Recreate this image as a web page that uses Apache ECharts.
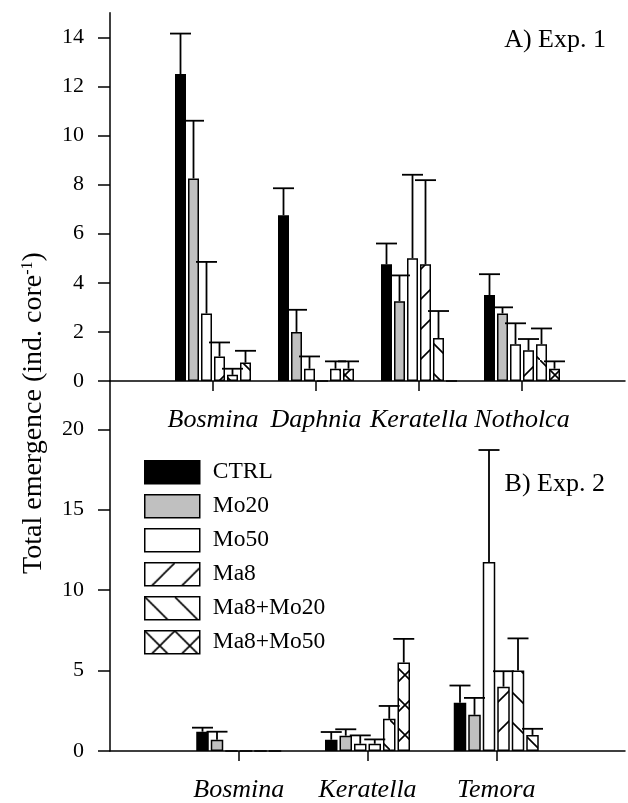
<!DOCTYPE html>
<html>
<head>
<meta charset="utf-8">
<script src="https://cdn.jsdelivr.net/npm/echarts@6/dist/echarts.min.js"></script>
<style>
html, body { margin: 0; padding: 0; background: #fff; }
#main { width: 628px; height: 803px; }
</style>
</head>
<body>
<div id="main"></div>
<script>
var treatments = ['CTRL', 'Mo20', 'Mo50', 'Ma8', 'Ma8+Mo20', 'Ma8+Mo50'];
var taxa1 = ['Bosmina', 'Daphnia', 'Keratella', 'Notholca'];
var taxa2 = ['Bosmina', 'Keratella', 'Temora'];
var ticks1 = [0, 2, 4, 6, 8, 10, 12, 14];
var ticks2 = [0, 5, 10, 15, 20];

// Exp. 1: one row per treatment, columns follow taxa1
var exp1Mean = [
    [12.5, 6.75, 4.75, 3.5],
    [8.25, 2.0, 3.25, 2.75],
    [2.75, 0.5, 5.0, 1.5],
    [1.0, 0, 4.75, 1.25],
    [0.25, 0.5, 1.75, 1.5],
    [0.75, 0.5, 0, 0.5]
];
var exp1Err = [
    [1.65, 1.1, 0.85, 0.85],
    [2.35, 0.9, 1.05, 0.25],
    [2.1, 0.5, 3.4, 0.85],
    [0.57, 0, 3.43, 0.46],
    [0.25, 0.3, 1.1, 0.64],
    [0.48, 0.3, 0, 0.3]
];
// Exp. 2: columns follow taxa2
var exp2Mean = [
    [1.2, 0.7, 3.0],
    [0.7, 0.95, 2.25],
    [0, 0.45, 11.75],
    [0, 0.45, 4.0],
    [0, 2.0, 5.0],
    [0, 5.5, 1.0]
];
var exp2Err = [
    [0.25, 0.48, 1.07],
    [0.5, 0.4, 1.05],
    [0, 0.52, 6.96],
    [0, 0.27, 0.96],
    [0, 0.8, 2.0],
    [0, 1.47, 0.38]
];

var FONT = '"Liberation Serif", "Times New Roman", serif';

function hatch(kind) {
    var c = document.createElement('canvas');
    c.width = 30; c.height = 30;
    var g = c.getContext('2d');
    g.fillStyle = '#fff';
    g.fillRect(0, 0, 30, 30);
    g.strokeStyle = '#000';
    g.lineWidth = 1.6;
    g.beginPath();
    if (kind === 'fwd' || kind === 'x') {
        g.moveTo(-2, 32); g.lineTo(32, -2);
    }
    if (kind === 'back' || kind === 'x') {
        g.moveTo(-2, -2); g.lineTo(32, 32);
    }
    g.stroke();
    return { image: c, repeat: 'repeat' };
}

var fills = ['#000', '#c0c0c0', '#fff', hatch('fwd'), hatch('back'), hatch('x')];

function barSeries(gi, mean, bw, gap) {
    return treatments.map(function (t, k) {
        return {
            name: t,
            type: 'bar',
            xAxisIndex: gi,
            yAxisIndex: gi,
            barWidth: bw,
            barGap: (gap / bw * 100) + '%',
            itemStyle: { color: fills[k], borderColor: '#000', borderWidth: 1.5 },
            data: ['-'].concat(mean[k]).concat(['-'])
        };
    });
}

function errSeries(gi, mean, err, pitch) {
    var items = [];
    mean.forEach(function (row, k) {
        row.forEach(function (v, j) {
            if (err[k][j] > 0) items.push([j + 1, k, v, err[k][j]]);
        });
    });
    return {
        type: 'custom',
        xAxisIndex: gi,
        yAxisIndex: gi,
        silent: true,
        z: 5,
        encode: { x: 0, y: 2 },
        data: items,
        renderItem: function (params, api) {
            var cat = api.value(0), k = api.value(1), m = api.value(2), e = api.value(3);
            var p0 = api.coord([cat, m]);
            var p1 = api.coord([cat, m + e]);
            var x = p0[0] + (k - 2.5) * pitch;
            var st = { stroke: '#000', lineWidth: 1.8 };
            return {
                type: 'group',
                children: [
                    { type: 'line', shape: { x1: x, y1: p0[1], x2: x, y2: p1[1] }, style: st },
                    { type: 'line', shape: { x1: x - 10.5, y1: p1[1], x2: x + 10.5, y2: p1[1] }, style: st }
                ]
            };
        }
    };
}

function xAx(gi, taxa) {
    return {
        type: 'category',
        gridIndex: gi,
        data: [''].concat(taxa).concat(['']),
        boundaryGap: false,
        axisLine: { lineStyle: { color: '#000', width: 1.5 } },
        axisTick: {
            length: 10,
            lineStyle: { color: '#000', width: 1.5 },
            interval: function (i, v) { return v !== ''; }
        },
        axisLabel: {
            interval: 0, margin: 26, color: '#000',
            fontFamily: FONT, fontSize: 26, fontStyle: 'italic'
        },
        splitLine: { show: false }
    };
}

function yAx(gi, max, ticks) {
    return {
        type: 'value',
        gridIndex: gi,
        min: 0,
        max: max,
        axisLine: { show: true, lineStyle: { color: '#000', width: 1.5 } },
        axisTick: { show: true, length: 12, customValues: ticks, lineStyle: { color: '#000', width: 1.5 } },
        axisLabel: { customValues: ticks, margin: 26, color: '#000', fontFamily: FONT, fontSize: 22 },
        splitLine: { show: false }
    };
}

var chart = echarts.init(document.getElementById('main'));
chart.setOption({
    backgroundColor: '#fff',
    animation: false,
    grid: [
        { left: 110, top: 12.7, width: 520, height: 368.3 },
        { left: 110, top: 381, width: 516, height: 372.3 }
    ],
    xAxis: [xAx(0, taxa1), xAx(1, taxa2)],
    yAxis: [yAx(0, 15, ticks1), yAx(1, 23, ticks2)],
    legend: {
        orient: 'vertical',
        left: 144,
        top: 460,
        padding: 0,
        itemWidth: 55,
        itemHeight: 23,
        itemGap: 9.5,
        icon: 'rect',
        selectedMode: false,
        data: treatments,
        itemStyle: { borderColor: '#000', borderWidth: 1.5 },
        textStyle: { color: '#000', fontFamily: FONT, fontSize: 23.5, padding: [0, 0, 0, 8] }
    },
    graphic: [
        {
            type: 'text', x: 34, y: 413, rotation: Math.PI / 2,
            style: {
                text: 'Total emergence (ind. core{sup|-1})',
                fontFamily: FONT, fontSize: 28, fill: '#000',
                align: 'center', verticalAlign: 'middle',
                rich: { sup: { fontFamily: FONT, fontSize: 16, verticalAlign: 'top', fill: '#000' } }
            }
        },
        {
            type: 'text', x: 606, y: 40.5,
            style: { text: 'A) Exp. 1', fontFamily: FONT, fontSize: 26, fill: '#000', align: 'right', verticalAlign: 'middle' }
        },
        {
            type: 'text', x: 605, y: 484.5,
            style: { text: 'B) Exp. 2', fontFamily: FONT, fontSize: 26, fill: '#000', align: 'right', verticalAlign: 'middle' }
        }
    ],
    series: barSeries(0, exp1Mean, 11, 2)
        .concat(barSeries(1, exp2Mean, 12.5, 2))
        .concat([errSeries(0, exp1Mean, exp1Err, 13), errSeries(1, exp2Mean, exp2Err, 14.5)])
});
</script>
</body>
</html>
